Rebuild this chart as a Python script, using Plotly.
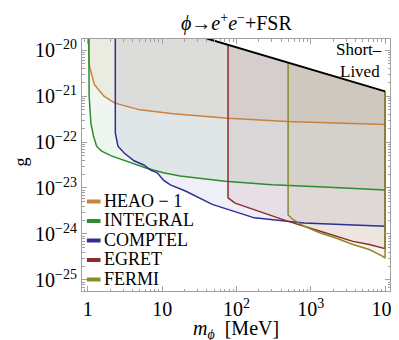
import numpy as np
import plotly.graph_objects as go

# ---------------- data ----------------
names = ["HEAO \u2212 1", "INTEGRAL", "COMPTEL", "EGRET", "FERMI"]
colors = ["#c8823c", "#2e8b2e", "#2e2e96", "#8e2c2c", "#8a8a2a"]
start_m = [1.022, 1.022, 2.34, 77.0, 495.0]

heao_m = [1.024, 1.035, 1.052, 1.226, 1.66, 2.32, 5.0, 14.1, 77, 480, 1e4]
heao_g = [1.3e-20, 7.0e-21, 4.4e-21, 1.76e-21, 9.8e-22, 7.0e-22, 5.0e-22,
          4.1e-22, 3.3e-22, 2.8e-22, 2.4e-22]

integral_m = [1.04, 1.1, 1.19, 1.31, 1.53, 2.07, 3.8, 6.2, 10.4, 17.4, 70,
              300, 1500, 1e4]
integral_g = [1.0e-21, 2.5e-22, 1.35e-22, 8.1e-23, 6.3e-23, 5.0e-23, 3.5e-23,
              2.7e-23, 2.14e-23, 1.82e-23, 1.41e-23, 1.17e-23, 1.05e-23, 9.1e-24]

comptel_m = [2.34, 2.54, 3.08, 4.18, 5.66, 7.0, 8.6, 10.4, 12.9, 20.9, 47.2,
             174, 806, 1e4]
comptel_g = [1.58e-22, 8.1e-23, 5.75e-23, 3.9e-23, 3.16e-23, 2.45e-23,
             2.14e-23, 1.48e-23, 1.17e-23, 8.5e-24, 4.4e-24, 2.24e-24,
             1.74e-24, 1.48e-24]

egret_m = [77, 95.8, 485, 1340, 2200, 3690, 6120, 1e4]
egret_g = [6.07e-24, 4.68e-24, 1.9e-24, 1.15e-24, 8.9e-25, 6.9e-25, 5.9e-25,
           4.8e-25]

fermi_m = [495, 560, 806, 1340, 2220, 3690, 6120, 9180, 1e4]
fermi_g = [2.59e-24, 2.14e-24, 1.48e-24, 1.05e-24, 8.1e-25, 5.9e-25, 4.6e-25,
           3.3e-25, 3.0e-25]

short_m = [1.022, 1.0e4]
short_g = [1.03e-19, 1.26e-21]

x_tickvals = [1, 10, 100, 1000, 10000]
x_ticktext = ["1", "10", "10<sup>2</sup>", "10<sup>3</sup>", "10<sup>4</sup>"]
y_tickvals = [1e-20, 1e-21, 1e-22, 1e-23, 1e-24, 1e-25]
y_ticktext = ["10<sup>\u221220</sup>", "10<sup>\u221221</sup>",
              "10<sup>\u221222</sup>", "10<sup>\u221223</sup>",
              "10<sup>\u221224</sup>", "10<sup>\u221225</sup>"]

series_m = [heao_m, integral_m, comptel_m, egret_m, fermi_m]
series_g = [heao_g, integral_g, comptel_g, egret_g, fermi_g]
right_edge = [False, False, False, True, True]

FONT = "Times New Roman"


def short_at(m):
    return 10 ** np.interp(np.log10(m), np.log10(short_m), np.log10(short_g))


def rgba(hexc, a):
    h = hexc.lstrip("#")
    r, g, b = int(h[0:2], 16), int(h[2:4], 16), int(h[4:6], 16)
    return f"rgba({r},{g},{b},{a})"


fig = go.Figure()

# fills
for m, g, m0, c in zip(series_m, series_g, start_m, colors):
    xs = [m0] + list(m) + [m[-1]]
    ys = [short_at(m0)] + list(g) + [short_at(m[-1])]
    fig.add_trace(go.Scatter(x=xs, y=ys, mode="lines", fill="toself",
                             fillcolor=rgba(c, 0.08), line=dict(width=0),
                             hoverinfo="skip", showlegend=False))

# boundary lines
for m, g, m0, c, re in zip(series_m, series_g, start_m, colors, right_edge):
    xs = [m0] + list(m)
    ys = [short_at(m0)] + list(g)
    if re:
        xs.append(m[-1])
        ys.append(short_at(m[-1]))
    fig.add_trace(go.Scatter(x=xs, y=ys, mode="lines",
                             line=dict(color=c, width=1.5),
                             showlegend=False))

# short-lived boundary
fig.add_trace(go.Scatter(x=short_m, y=short_g, mode="lines",
                         line=dict(color="black", width=2), showlegend=False))

# ---------------- layout ----------------
X0, X1, Y0, Y1 = 74, 390, 31, 283
W, H = X1 - X0, Y1 - Y0


def px(x):
    return (x - X0) / W


def py(y):
    return (Y1 - y) / H


axis_common = dict(showline=True, linecolor="#a0a0a0", linewidth=1,
                   mirror="allticks", ticks="inside", ticklen=5,
                   tickcolor="#a0a0a0", showgrid=False, zeroline=False,
                   tickfont=dict(family=FONT, size=20, color="black"))

fig.update_layout(
    width=399, height=340,
    margin=dict(l=X0, r=399 - X1, t=Y0, b=340 - Y1),
    paper_bgcolor="white", plot_bgcolor="white",
    showlegend=False,
    font=dict(family=FONT, color="black"),
    xaxis=dict(type="log", range=[-0.079, 4.066], tickmode="array",
               tickvals=x_tickvals, ticktext=x_ticktext,
               minor=dict(ticks="inside", ticklen=2.5, tickcolor="#a0a0a0",
                          dtick="D1", showgrid=False),
               **axis_common),
    yaxis=dict(type="log", range=[-25.24, -19.76], tickmode="array",
               tickvals=y_tickvals, ticktext=y_ticktext,
               minor=dict(ticks="inside", ticklen=2.5, tickcolor="#a0a0a0",
                          dtick="D1", showgrid=False),
               **axis_common),
)

ann = []
# title
ann.append(dict(text="<i>\u03d5</i>\u2192<i>e</i><sup>+</sup><i>e</i><sup>\u2212</sup>+FSR",
                x=0.5, y=py(14), xref="paper", yref="paper",
                xanchor="center", yanchor="middle", showarrow=False,
                font=dict(family=FONT, size=20, color="black")))
# axis titles
ann.append(dict(text="<i>m</i><sub><i>\u03d5</i></sub>  [MeV]",
                x=px(232), y=py(321), xref="paper", yref="paper",
                xanchor="center", yanchor="middle", showarrow=False,
                font=dict(family=FONT, size=20, color="black")))
ann.append(dict(text="g", x=px(11), y=py(154), xref="paper", yref="paper",
                xanchor="center", yanchor="middle", showarrow=False,
                textangle=-90, font=dict(family=FONT, size=18, color="black")))
# short-lived label
ann.append(dict(text="Short\u2013", x=px(384), y=py(42), xref="paper",
                yref="paper", xanchor="right", yanchor="middle",
                showarrow=False, font=dict(family=FONT, size=17, color="black")))
ann.append(dict(text="Lived", x=px(382), y=py(63), xref="paper",
                yref="paper", xanchor="right", yanchor="middle",
                showarrow=False, font=dict(family=FONT, size=17, color="black")))

shapes = []
for i, (nm, c) in enumerate(zip(names, colors)):
    yy = 193.5 + 19.5 * i
    shapes.append(dict(type="line", xref="paper", yref="paper",
                       x0=px(79), x1=px(93), y0=py(yy), y1=py(yy),
                       line=dict(color=c, width=4)))
    ann.append(dict(text=nm, x=px(95), y=py(yy - 1), xref="paper",
                    yref="paper", xanchor="left", yanchor="middle",
                    showarrow=False,
                    font=dict(family=FONT, size=18, color="black")))

fig.update_layout(annotations=ann, shapes=shapes)

fig.write_html("out.html")
